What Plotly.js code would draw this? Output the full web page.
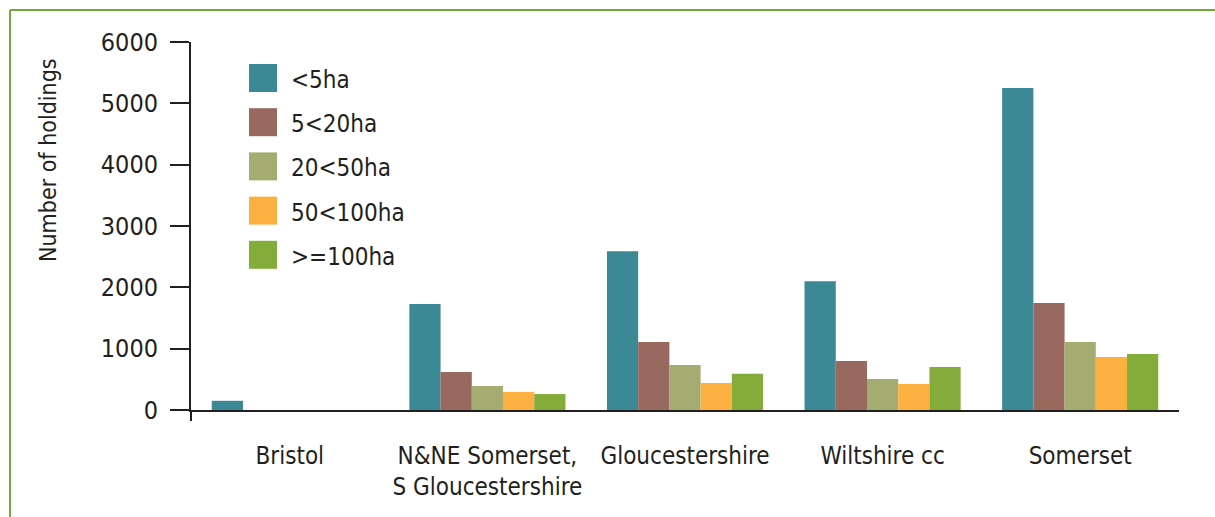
<!DOCTYPE html>
<html>
<head>
<meta charset="utf-8">
<script src="https://cdn.plot.ly/plotly-3.0.1.min.js"></script>
<style>
  html, body { margin: 0; padding: 0; background: #ffffff; }
  #chart { width: 1215px; height: 517px; }
</style>
</head>
<body>
<div id="chart"></div>
<script>
// ---- data ----
const categories = ["Bristol", "N&NE Somerset,<br>S Gloucestershire", "Gloucestershire", "Wiltshire cc", "Somerset"];
const seriesNames = ["<5ha", "5<20ha", "20<50ha", "50<100ha", ">=100ha"];
const under5 = [150, 1730, 2590, 2100, 5250];
const from5to20 = [0, 620, 1110, 800, 1745];
const from20to50 = [0, 390, 735, 505, 1110];
const from50to100 = [0, 295, 440, 425, 865];
const over100 = [0, 260, 590, 700, 915];
const seriesValues = [under5, from5to20, from20to50, from50to100, over100];
const seriesColors = ["#3b8994", "#98695e", "#a4ac72", "#fcb040", "#84ac3b"];
const yTicks = [0, 1000, 2000, 3000, 4000, 5000, 6000];
const yTitle = "Number of holdings";

// ---- layout geometry (pixels) ----
const W = 1215, H = 517;
const M = { l: 191, r: 36, t: 42, b: 107 };
const PW = W - M.l - M.r, PH = H - M.t - M.b;
const px = x => (x - M.l) / PW;          // pixel x -> paper x
const py = y => (H - M.b - y) / PH;      // pixel y -> paper y

const FONT = "'Liberation Sans Narrow', 'DejaVu Sans Condensed', 'Arial Narrow', sans-serif";
const INK = "#231f20";

const traces = seriesNames.map((name, i) => ({
  type: "bar",
  name: name,
  x: categories,
  y: seriesValues[i],
  marker: { color: seriesColors[i], line: { width: 0 } },
  showlegend: false,
  hoverinfo: "x+y+name"
}));

const shapes = [];
const annotations = [];

// frame border (green, top + left)
shapes.push({ type: "line", xref: "paper", yref: "paper", x0: px(10), x1: px(1240), y0: py(10), y1: py(10), line: { color: "#72aa3a", width: 2 } });
shapes.push({ type: "line", xref: "paper", yref: "paper", x0: px(10), x1: px(10), y0: py(10), y1: py(540), line: { color: "#72aa3a", width: 2 } });
// y-axis extension below x-axis
shapes.push({ type: "line", xref: "paper", yref: "paper", x0: 0, x1: 0, y0: 0, y1: py(421), line: { color: INK, width: 2 } });

// manual legend
seriesNames.forEach((name, i) => {
  const top = 64 + i * 44.2;
  shapes.push({ type: "rect", xref: "paper", yref: "paper", x0: px(249), x1: px(277), y0: py(top + 28), y1: py(top), fillcolor: seriesColors[i], line: { width: 0 } });
  annotations.push({ xref: "paper", yref: "paper", x: px(289), y: py(top + 16), xanchor: "left", yanchor: "middle", text: name.replace(/</g, "&lt;").replace(/>/g, "&gt;"), showarrow: false, font: { family: FONT, size: 24, color: INK } });
});

// y-axis title
annotations.push({ xref: "paper", yref: "paper", x: px(48), y: py(160), xanchor: "center", yanchor: "middle", textangle: -90, text: yTitle, showarrow: false, font: { family: FONT, size: 23, color: INK } });

const layout = {
  width: W, height: H,
  margin: M,
  paper_bgcolor: "#ffffff",
  plot_bgcolor: "#ffffff",
  font: { family: FONT, size: 24, color: INK },
  barmode: "group",
  bargap: 0.21,
  bargroupgap: 0,
  showlegend: false,
  xaxis: {
    type: "category",
    showline: true, linecolor: INK, linewidth: 2,
    ticks: "", showgrid: false, zeroline: false,
    tickangle: 0,
    tickfont: { family: FONT, size: 24, color: INK },
    ticklabelstandoff: 23
  },
  yaxis: {
    range: [0, 6000],
    tickvals: yTicks,
    ticktext: yTicks.map(String),
    showline: true, linecolor: INK, linewidth: 2,
    ticks: "outside", ticklen: 19, tickwidth: 2, tickcolor: INK,
    showgrid: false, zeroline: false,
    tickfont: { family: FONT, size: 25, color: INK },
    ticklabelstandoff: 7
  },
  shapes: shapes,
  annotations: annotations
};

Plotly.newPlot("chart", traces, layout, { displayModeBar: false, staticPlot: true });
</script>
</body>
</html>
